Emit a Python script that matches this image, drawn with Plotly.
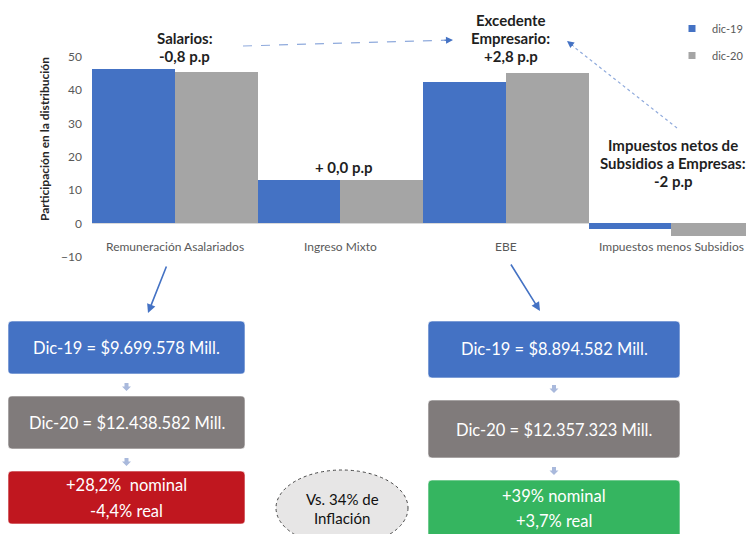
import plotly.graph_objects as go

# The page body has an 8px margin, so the figure is drawn at (8, 8) in the 754x534 window.
WIN_W, WIN_H = 754, 534
OX, OY = 8, 8
FW, FH = WIN_W - OX, WIN_H - OY

# ---------------- data ----------------
categories = ["Remuneración Asalariados", "Ingreso Mixto", "EBE", "Impuestos menos Subsidios"]
series_names = ["dic-19", "dic-20"]
dic19 = [46.2, 13.0, 42.3, -1.8]
dic20 = [45.4, 13.0, 45.1, -4.0]
ytick_vals = [-10, 0, 10, 20, 30, 40, 50]
ytitle = "Participación en la distribución"

change_labels = [
    ["Salarios:", "-0,8 p.p"],
    ["+ 0,0 p.p"],
    ["Excedente", "Empresario:", "+2,8 p.p"],
    ["Impuestos netos de", "Subsidios a Empresas:", "-2 p.p"],
]
left_boxes = [["Dic-19 = $9.699.578 Mill."], ["Dic-20 = $12.438.582 Mill."], ["+28,2%  nominal", "-4,4% real"]]
right_boxes = [["Dic-19 = $8.894.582 Mill."], ["Dic-20 = $12.357.323 Mill."], ["+39% nominal", "+3,7% real"]]
inflation_note = ["Vs. 34% de", "Inflación"]

# ---------------- styles ----------------
FONT = "Lato"
BLUE = "#4472C4"
GRAY = "#A5A5A5"
BOX_GRAY = "#807B7B"
RED = "#C0171F"
GREEN = "#35B560"
SMALL_ARROW = "#A9B9DC"
TXT = "#595959"
DARK = "#1F1F1F"


def px(x):
    return (x - OX) / FW


def py(y):
    return 1 - (y - OY) / FH


fig = go.Figure()
colors = [BLUE, GRAY]
for name, vals, col in zip(series_names, [dic19, dic20], colors):
    fig.add_trace(go.Bar(x=categories, y=vals, name=name, marker=dict(color=col, line=dict(width=0)),
                         showlegend=False))
    fig.add_trace(go.Scatter(x=[None], y=[None], mode="markers", name=name, legendgroup=name,
                             marker=dict(symbol="square", size=7, color=col)))

annotations = []
shapes = []


def text_ann(x, y, t, size, color, xref="paper", yref="paper", **kw):
    d = dict(x=x, y=y, xref=xref, yref=yref, text=t, showarrow=False, xanchor="center", yanchor="middle",
             font=dict(family=FONT, size=size, color=color))
    d.update(kw)
    annotations.append(d)


# y-axis title
text_ann(px(45), py(139), "<b>" + ytitle + "</b>", 12, "#262626", textangle=-90)

# category labels (placed low, as in the original)
for c in categories:
    text_ann(c, -7, c, 12, TXT, xref="x", yref="y")

# change labels
label_pos = [(10, [38, 56]), (4, [167]), (5, [20, 38, 56]), (2, [145, 163, 181])]
for c, lines, (xs, ys) in zip(categories, change_labels, label_pos):
    for t, yy in zip(lines, ys):
        text_ann(c, py(yy), "<b>" + t + "</b>", 15, DARK, xref="x", xshift=xs)


def rrect(x0, y0, x1, y1, r=4):
    pts = [("M", x0 + r, y0), ("L", x1 - r, y0), ("Q", x1, y0, x1, y0 + r), ("L", x1, y1 - r),
           ("Q", x1, y1, x1 - r, y1), ("L", x0 + r, y1), ("Q", x0, y1, x0, y1 - r), ("L", x0, y0 + r),
           ("Q", x0, y0, x0 + r, y0)]
    s = ""
    for p in pts:
        coords = p[1:]
        s += p[0] + " " + " ".join(f"{px(coords[i]):.5f},{py(coords[i+1]):.5f}" for i in range(0, len(coords), 2)) + " "
    return s + "Z"


def small_arrow(xc, y0):
    pts = [(xc - 2, y0), (xc + 2, y0), (xc + 2, y0 + 3.5), (xc + 4.5, y0 + 3.5), (xc, y0 + 8),
           (xc - 4.5, y0 + 3.5), (xc - 2, y0 + 3.5)]
    return "M " + " L ".join(f"{px(a):.5f},{py(b):.5f}" for a, b in pts) + " Z"


def add_column(boxes, x0, x1, yspans, text_ys, arrow_ys, fills):
    xc = (x0 + x1) / 2
    for lines, (ya, yb), tys, fill in zip(boxes, yspans, text_ys, fills):
        shapes.append(dict(type="path", xref="paper", yref="paper", path=rrect(x0, ya, x1, yb),
                           fillcolor=fill, line=dict(color="rgba(255,255,255,0.6)", width=1)))
        for t, yy in zip(lines, tys):
            text_ann(px(xc), py(yy), t, 16.5, "white")
    for ay in arrow_ys:
        shapes.append(dict(type="path", xref="paper", yref="paper", path=small_arrow(xc, ay),
                           fillcolor=SMALL_ARROW, line=dict(width=0)))


add_column(left_boxes, 8, 245, [(321, 374), (396, 449), (471, 524)], [[348], [423], [485, 511]],
           [383, 458], [BLUE, BOX_GRAY, RED])
add_column(right_boxes, 428, 680, [(321, 378), (400, 458), (480, 545)], [[349], [430], [496, 521]],
           [385, 467], [BLUE, BOX_GRAY, GREEN])

# inflation ellipse
shapes.append(dict(type="circle", xref="paper", yref="paper", x0=px(276), x1=px(408), y0=py(546), y1=py(470),
                   fillcolor="#E7E6E6", line=dict(color="#444444", width=1, dash="dot")))
for t, yy in zip(inflation_note, [499, 518]):
    text_ann(px(342), py(yy), t, 15, "#111111")


def arrow(head, tail, color, width, size=1.0):
    annotations.append(dict(x=px(head[0]), y=py(head[1]), xref="paper", yref="paper", text="",
                            showarrow=True, ax=tail[0] - head[0], ay=tail[1] - head[1], axref="pixel",
                            ayref="pixel", arrowhead=2, arrowsize=size, arrowwidth=width,
                            arrowcolor=color, standoff=0))


# solid arrows to boxes
arrow((148, 313), (167, 265), BLUE, 1.6, 1.1)
arrow((540, 311), (510, 263), BLUE, 1.6, 1.1)

# dashed arrows
shapes.append(dict(type="line", xref="paper", yref="paper", x0=px(243), y0=py(46), x1=px(446), y1=py(40.2),
                   line=dict(color="#8FAADC", width=1.2, dash="dash")))
arrow((453, 40), (443, 40.3), BLUE, 1, 1.4)
shapes.append(dict(type="line", xref="paper", yref="paper", x0=px(677), y0=py(128), x1=px(574), y1=py(47),
                   line=dict(color="#8FAADC", width=1.2, dash="dot")))
arrow((567, 41), (575, 47.3), BLUE, 1, 1.4)

fig.update_layout(
    width=FW, height=FH,
    margin=dict(l=0, r=0, t=0, b=0),
    paper_bgcolor="white", plot_bgcolor="white",
    barmode="group", bargap=0, bargroupgap=0,
    font=dict(family=FONT, color=TXT),
    xaxis=dict(domain=[px(92), 1], range=[-0.5, 3.5], showticklabels=False, showgrid=False,
               zeroline=False, showline=False, ticks="", automargin=False),
    yaxis=dict(domain=[py(256.7), py(23.3)], range=[-10, 60], tickvals=ytick_vals, showgrid=False,
               zeroline=True, zerolinecolor="#D9D9D9", zerolinewidth=1, showline=False, ticks="",
               ticklabelstandoff=9, tickfont=dict(family=FONT, size=12, color=TXT), automargin=False),
    legend=dict(x=px(672), y=py(14), xanchor="left", yanchor="top", tracegroupgap=8,
                font=dict(family=FONT, size=11, color=TXT), bgcolor="rgba(0,0,0,0)", itemwidth=30),
    annotations=annotations,
    shapes=shapes,
)

fig.write_html("out.html")
